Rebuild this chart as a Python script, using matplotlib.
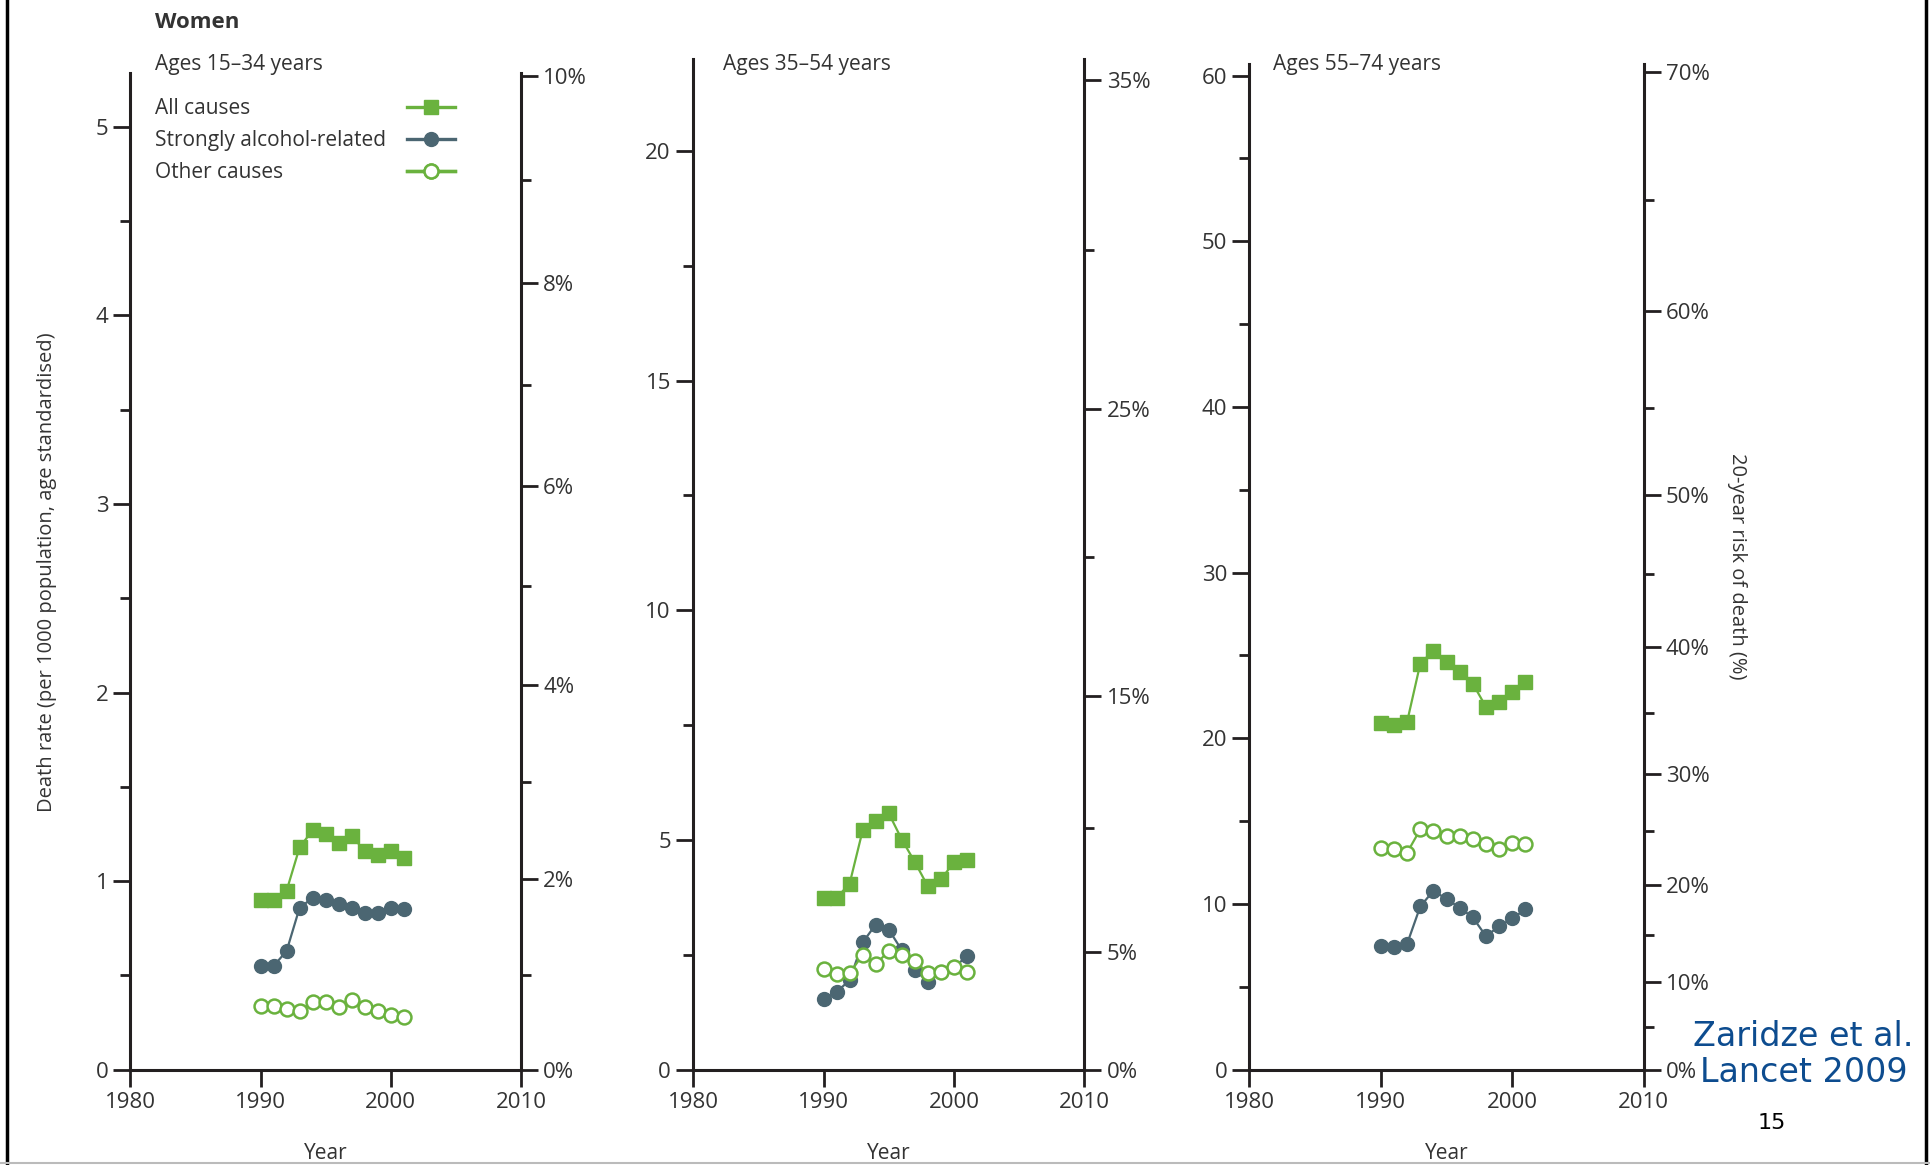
import numpy as np
import matplotlib
matplotlib.use("Agg")
import matplotlib.pyplot as plt
from matplotlib.lines import Line2D

plt.rcParams['font.family'] = ['Open Sans', 'DejaVu Sans']

# data (deaths per 1000, age standardised)
years = [1990, 1991, 1992, 1993, 1994, 1995, 1996, 1997, 1998, 1999, 2000, 2001]

all_15_34 = [0.90, 0.90, 0.95, 1.18, 1.27, 1.25, 1.20, 1.24, 1.16, 1.14, 1.16, 1.12]
alc_15_34 = [0.55, 0.55, 0.63, 0.86, 0.91, 0.90, 0.88, 0.86, 0.83, 0.83, 0.86, 0.85]
oth_15_34 = [0.34, 0.34, 0.32, 0.31, 0.36, 0.36, 0.33, 0.37, 0.33, 0.31, 0.29, 0.28]

all_35_54 = [3.74, 3.74, 4.05, 5.21, 5.42, 5.58, 5.01, 4.52, 3.99, 4.14, 4.52, 4.57]
alc_35_54 = [1.53, 1.69, 1.95, 2.77, 3.16, 3.05, 2.60, 2.18, 1.91, 2.12, 2.23, 2.47]
oth_35_54 = [2.20, 2.08, 2.10, 2.50, 2.30, 2.58, 2.50, 2.37, 2.10, 2.12, 2.23, 2.13]

all_55_74 = [20.9, 20.8, 21.0, 24.5, 25.3, 24.6, 24.0, 23.3, 21.9, 22.2, 22.8, 23.4]
alc_55_74 = [7.47, 7.38, 7.60, 9.85, 10.8, 10.3, 9.78, 9.19, 8.06, 8.65, 9.13, 9.67]
oth_55_74 = [13.4, 13.3, 13.1, 14.5, 14.4, 14.1, 14.1, 13.9, 13.6, 13.3, 13.7, 13.6]

series_names = ["All causes", "Strongly alcohol-related", "Other causes"]
panel_titles = ["Ages 15\u201334 years", "Ages 35\u201354 years", "Ages 55\u201374 years"]

green = "#6ab23e"
slate = "#4b6672"
ink = "#231f20"
txt = "#333333"


def to_risk(r):
    # 20-year risk (%) from annual death rate per 1000
    return 100 * (1 - np.exp(-0.02 * np.asarray(r, dtype=float)))


def from_risk(p):
    p = np.clip(np.asarray(p, dtype=float), -50, 99.9)
    return -np.log(1 - p / 100) / 0.02


fig = plt.figure(figsize=(19.3, 11.65), dpi=100)

panels = [
    dict(rect=[0.0676, 0.0818, 0.2023, 0.8555], ymax=5.285, major=[0, 1, 2, 3, 4, 5],
         minor=np.arange(0.5, 5.01, 1.0), rmaj=[0, 2, 4, 6, 8, 10], rmin=[1, 3, 5, 7, 9],
         data=(all_15_34, alc_15_34, oth_15_34)),
    dict(rect=[0.3591, 0.0818, 0.2028, 0.8676], ymax=22.0, major=[0, 5, 10, 15, 20],
         minor=[2.5, 7.5, 12.5, 17.5], rmaj=[0, 5, 15, 25, 35], rmin=[10, 20, 30],
         data=(all_35_54, alc_35_54, oth_35_54)),
    dict(rect=[0.6474, 0.0818, 0.2042, 0.8633], ymax=60.7, major=[0, 10, 20, 30, 40, 50, 60],
         minor=[5, 15, 25, 35, 45, 55], rmaj=[0, 10, 20, 30, 40, 50, 60, 70],
         rmin=[5, 15, 25, 35, 45, 55, 65],
         data=(all_55_74, alc_55_74, oth_55_74)),
]

tick_kw = dict(width=2, color=ink, labelcolor=txt, labelsize=16)

for i, p in enumerate(panels):
    ax = fig.add_axes(p['rect'])
    a, s, o = p['data']
    h1, = ax.plot(years, a, color=green, lw=1.6, marker='s', ms=9.5, mec=green, mfc=green, zorder=3)
    h2, = ax.plot(years, s, color=slate, lw=1.6, marker='o', ms=10, mec=slate, mfc=slate, zorder=4)
    h3, = ax.plot(years, o, color=green, lw=1.6, marker='o', ms=10, mec=green, mfc='white',
                  mew=1.8, zorder=5)

    ax.set_xlim(1980, 2010)
    ax.set_ylim(0, p['ymax'])
    ax.set_xticks([1980, 1990, 2000, 2010])
    ax.set_yticks(p['major'])
    ax.set_yticks(p['minor'], minor=True)
    ax.tick_params(axis='both', which='major', length=12, pad=4, **tick_kw)
    ax.tick_params(axis='y', which='minor', length=7, width=2, color=ink)
    for side in ['top', 'right']:
        ax.spines[side].set_visible(False)
    for side in ['left', 'bottom']:
        ax.spines[side].set_linewidth(2.2)
        ax.spines[side].set_color(ink)

    sec = ax.secondary_yaxis('right', functions=(to_risk, from_risk))
    sec.set_yticks(p['rmaj'])
    sec.set_yticks(p['rmin'], minor=True)
    sec.set_yticklabels([f"{v}%" for v in p['rmaj']])
    sec.tick_params(axis='y', which='major', length=12, pad=4, **tick_kw)
    sec.tick_params(axis='y', which='minor', length=7, width=2, color=ink)
    sec.spines['right'].set_linewidth(2.2)
    sec.spines['right'].set_color(ink)

    fig.text(p['rect'][0] + p['rect'][2] / 2, 0.001, "Year", ha='center', va='bottom',
             fontsize=15, color=txt)

    if i == 0:
        rows = [0.964, 0.932, 0.900]
        for lab, h, y in zip(series_names, [h1, h2, h3], rows):
            ax.text(0.063, y, lab, transform=ax.transAxes, va='center', ha='left',
                    fontsize=15, color=txt)
            lg = ax.legend([h], [''], loc='center', bbox_to_anchor=(0.77, y),
                           frameon=False, handlelength=2.3, handletextpad=0,
                           borderpad=0, borderaxespad=0, fontsize=15)
            for ln in lg.get_lines():
                ln.set_linewidth(2.4)
            ax.add_artist(lg)

title_x = [0.0803, 0.3744, 0.6594]
for tx, t in zip(title_x, panel_titles):
    fig.text(tx, 0.945, t, ha='left', va='center', fontsize=15, color=txt)

fig.text(0.0803, 0.981, "Women", ha='left', va='center', fontsize=16, fontweight='bold', color=txt)
fig.text(0.0243, 0.509, "Death rate (per 1000 population, age standardised)", rotation=90,
         ha='center', va='center', fontsize=14.5, color=txt)
fig.text(0.900, 0.514, "20-year risk of death (%)", rotation=270,
         ha='center', va='center', fontsize=14.5, color=txt)

fig.text(0.9345, 0.095, "Zaridze et al.\nLancet 2009", ha='center', va='center',
         fontsize=24, color="#0d4c8f", family=['DejaVu Sans'], linespacing=1.1)
fig.text(0.918, 0.036, "15", ha='center', va='center', fontsize=16, color='black',
         family=['DejaVu Sans'])

# slide frame
fig.add_artist(Line2D([0.0037, 0.0037], [0.0, 1.0], transform=fig.transFigure, color='black', lw=2.5))
fig.add_artist(Line2D([0.9979, 0.9979], [0.0, 1.0], transform=fig.transFigure, color='black', lw=2.5))
fig.add_artist(Line2D([0.0, 1.0], [0.0017, 0.0017], transform=fig.transFigure, color='#bbbbbb', lw=1.5))

fig.savefig("out.png", dpi=100)
